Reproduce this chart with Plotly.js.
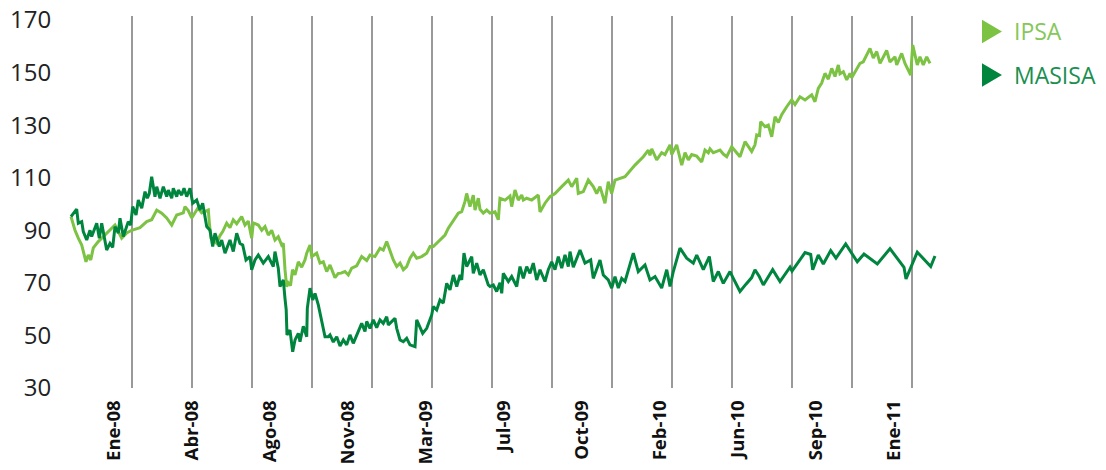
<!DOCTYPE html>
<html>
<head>
<meta charset="utf-8">
<script src="https://cdn.plot.ly/plotly-3.0.1.min.js"></script>
<style>html,body{margin:0;padding:0;background:#fff;}#chart{width:1106px;height:470px;}</style>
</head>
<body>
<div id="chart"></div>
<script>
// Period index (category position along the axis) and index values (base 100)
const ipsaX = [-0.17,0.5,1.05,1.62,2.33,2.72,3.12,3.55,4.38,5.22,
  6.05,7.17,8.28,9.12,9.95,11.33,12.45,13.28,14.12,14.95,
  15.78,16.62,17.45,18.55,18.83,19.38,19.95,20.5,21,21.62,
  22.17,22.72,22.92,23.17,23.67,24.12,24.67,25.12,25.78,26.33,
  26.88,27.45,28.28,28.83,29.38,29.95,30.22,31.05,31.62,32.17,
  32.72,33.28,33.83,34.38,34.95,35.22,35.5,35.78,36.05,36.42,
  36.75,37.17,37.72,38.28,38.83,39.12,39.67,39.95,40.78,41.33,
  41.88,42.45,43,43.83,44.38,44.83,45.5,46.05,46.62,47.45,
  48.28,49.12,49.67,50.5,51.33,51.88,52.45,53,53.55,54.12,
  54.67,55.22,55.78,56.33,56.88,57.45,58.28,59.12,59.67,60.22,
  61.05,61.62,62.17,62.72,63.28,63.83,64.38,64.95,65.5,65.78,
  66.33,66.88,67.17,67.72,68,68.55,69.12,69.67,70.5,71.05,
  71.33,72.17,73,73.28,73.83,74.38,74.95,75.22,75.78,76.62,
  77.72,78,78.83,79.67,80.5,81.62,82.45,82.72,83.28,84.12,
  84.38,85.22,86.05,86.88,87.45,88,88.83,89.38,89.95,90.5,
  92.17,93.83,95.22,96.05,96.33,96.62,97.45,98.28,98.83,99.67,
  99.95,100.78,101.62,102.17,102.72,103.28,104.12,104.95,105.5,106.05,
  106.33,106.88,107.45,108,108.55,109.12,109.95,111.33,112.17,113.28,
  113.83,114.12,114.58,114.78,115.5,116.05,116.62,117.17,117.72,118.28,
  119.12,119.95,120.5,121.33,122.17,123.28,123.83,124.38,124.95,125.5,
  126.05,126.62,127.17,127.72,128,128.55,129.12,129.67,129.95,130.5,
  131.33,131.88,132.72,133,133.55,134.12,134.67,135.78,136.33,137.17,
  137.45,138.28,138.83,139.78,140.12,140.88,141.33,141.88,142.45,143];
const ipsaY = [95.2,90,87,84.4,78,80.6,78.7,83.3,85.7,87.6,
  89.5,92,87,89,90,91,93.3,94,97.7,96.5,
  94.7,92,95.8,96.6,99,97.5,94.7,97,98.5,96.6,
  97.2,97.7,92,87,86,85,88,89.5,92.7,91,
  94,92.5,95.2,92,93.5,87,92.8,92,90,91.4,
  88.2,90,86.3,87.6,84.4,85,75,68.6,70,69,
  75,73,78,76,78.7,81.3,84.4,80,81.3,77.5,
  78,74.3,76.8,72,73.6,73.7,74.3,73,75.6,76.5,
  80,78.5,80.6,80,83.2,82.5,85.7,82.5,78.7,76.2,
  77.5,75,76.2,79.4,81.3,79.4,80,81.3,83.8,83.8,
  85.7,87,88.2,90.8,92.7,94.6,96.5,97.1,101,104,
  99,103.4,97.7,102.2,98,96.5,97.7,96.5,97,94,
  102.2,101.5,103,99,105.3,101.5,103.4,101.5,102.2,101.5,
  103.4,97,100.3,102.8,104,106.6,108.5,109.1,106.6,109.8,
  104,104.7,109.1,106.6,104,106.6,100.3,108.5,104,109.1,
  110.4,114.8,118,120.5,118.5,121,116.8,119.5,118.8,122.5,
  118.8,122.5,114.8,119.5,116.8,118.8,118.2,116,120.5,119.5,
  121,119.5,120,120.5,119,118,121.8,118,123.7,120,
  122.5,126.3,126,131.3,129.4,130,125.6,133.2,131,134,
  137,139.6,137.8,140.8,139.6,141.5,138.9,144,146,149.7,
  147.5,151.6,148.5,152.9,149.5,150.3,147.2,149.7,148,150.3,
  153.5,154.1,158,159.2,155.5,158,153.5,158.4,154,156,
  152.9,157.3,153.5,149,160.5,152.9,156,152.9,156,153.5];

const masisaX = [-0.17,0.78,1.05,1.62,1.88,2.45,3,3.28,4.12,4.55,
  4.95,5.5,5.78,6.33,6.78,7.17,7.72,8,8.55,9.38,
  9.78,10.12,10.67,11.05,11.62,12.17,12.55,12.88,13.28,13.83,
  14.12,14.67,15.22,15.78,16.05,16.62,16.88,17.45,17.72,18.28,
  18.67,19.12,19.67,20.12,20.78,21.33,21.78,22.45,23,23.45,
  23.83,24.55,24.95,25.5,26.33,26.88,27.45,28,28.45,29,
  29.67,29.95,30.5,31.05,31.88,32.72,33.55,33.83,34.38,34.67,
  35.22,35.5,35.7,35.83,36.33,36.78,37.17,37.72,38,38.55,
  39.12,39.22,39.67,40.12,40.5,41.05,41.62,42.17,42.72,43,
  43.55,44.12,44.67,45.22,45.78,46.33,46.88,47.72,48.28,48.83,
  49.12,49.67,50.22,50.78,51.33,51.88,52.45,52.72,53.83,54.12,
  54.67,55.22,55.78,56.33,57.17,57.45,58,58.45,59.12,59.95,
  60.22,60.78,61.33,61.88,62.45,63,63.55,64.12,64.67,64.95,
  65.33,65.78,66.33,66.62,66.88,67.45,68,68.55,69.38,69.67,
  70.22,70.78,71.33,71.62,71.88,72.72,73.28,74.12,74.67,75.22,
  75.78,76.33,76.88,77.45,78,78.83,79.38,79.95,80.5,81.05,
  81.62,82.17,82.72,83,83.55,84.67,85.5,86.45,86.88,88,
  88.55,89.38,89.95,90.5,91.05,91.62,92.17,92.72,93.55,94.38,
  95.5,96.33,97.17,98.28,99.12,99.67,100.22,101.33,102.45,103.55,
  104.12,105.22,106.22,106.88,107.72,108.55,109.67,110.22,111.33,112.33,
  113.28,113.83,114.55,115.22,116.78,118,119.67,120,122.17,123.12,
  123.45,124.38,125.22,126.45,127.33,128.95,130.88,132,134.22,136.33,
  138.67,139,140.88,143.12,143.83];
const masisaY = [95.2,98,92.7,93.3,89.5,86.3,90,87.6,92.7,87,
  92.7,85.7,82.5,85,83.5,91.4,88.9,94.6,87.6,93.3,
  92,99,95.8,101.5,98.4,104.7,102.2,104,110.4,102.8,
  106.6,102.2,106.6,102.8,105.3,102.2,106,102.8,105.3,103.4,
  106,102.8,106,100.3,101.5,97.7,100.3,91.4,90,83.8,
  88.9,83.8,86.3,81.3,86.3,81.9,88.9,85,84.4,78.7,
  80,75,78.7,80.6,77.5,80,76.2,81.9,75.6,68.6,
  71.1,64,59.7,50.2,52,43.8,48.3,50.8,47.6,53.5,
  49.5,60.3,68,63.5,66,61.6,55.9,49.5,49.5,50.2,
  47.5,49.5,46,48.3,46.4,50.2,47,51.5,54.6,51.5,
  55.3,52.7,55.9,53,55.9,54.6,57.1,54,56.5,52.7,
  48.3,47.6,48.9,46.4,45.7,55.9,52.7,50.8,52.7,57.8,
  61,59.7,63.5,62.3,69.8,67.3,73,68.6,73,71.1,
  81.3,76.2,78.7,80,73.6,77.5,73,75,69.2,68.6,
  69.2,66.7,70,66,73.6,70.5,72.4,68.6,76.2,71.7,
  76.2,73.6,77.5,71.1,75,70.5,75,78,75,80,
  75.6,80.6,76.2,81.9,76,82.5,77.5,78.7,71.7,78.7,
  73,71.1,68,72.4,68,71.7,70.5,75,81.3,74.3,
  76.8,71.1,72.4,68,75,68.6,74.3,83.2,79.4,77.5,
  80.6,75,80,70.5,74.3,69.8,74.3,71.7,66.7,69.5,
  72,75,72.4,69.2,75,70.5,76,74.5,81.5,80.8,
  75,80.6,77.2,82.3,79.4,84.8,78,81,77.2,83,
  75.9,71.5,81.7,76.2,80.2];

const tickIdx = [7,20,33,46,59,72,85,98,111,124,137];
const tickLabels = ["Ene-08","Abr-08","Ago-08","Nov-08","Mar-09","Jul-09","Oct-09","Feb-10","Jun-10","Sep-10","Ene-11"];
const gridIdx = [10,20,30,40,50,60,70,80,90,100,110,120,130,140];
const yTicks = [30,50,70,90,110,130,150,170];
const seriesNames = ["IPSA","MASISA"];
const seriesColors = ["#7cc243","#00853f"];
const legendTextColors = ["#86c75a","#1a8f4f"];

const traces = [
  {x: ipsaX, y: ipsaY, name: seriesNames[0], type: 'scatter', mode: 'lines',
   line: {color: seriesColors[0], width: 3}, showlegend: false, hoverinfo: 'skip'},
  {x: masisaX, y: masisaY, name: seriesNames[1], type: 'scatter', mode: 'lines',
   line: {color: seriesColors[1], width: 3}, showlegend: false, hoverinfo: 'skip'}
];

const shapes = gridIdx.map(g => ({
  type: 'line', xref: 'x', yref: 'paper', x0: g, x1: g, y0: 0, y1: 1.011,
  line: {color: '#555', width: 1.2}, layer: 'below'
}));

// Legend: triangle markers + labels placed in the right margin
const legendRows = [0.9688, 0.8505];
const triX0 = 1.0349, triX1 = 1.0574, triHalf = 0.0318;
seriesNames.forEach((n, i) => {
  const yc = legendRows[i];
  shapes.push({type: 'path', xref: 'paper', yref: 'paper',
    path: `M ${triX0} ${yc + triHalf} L ${triX0} ${yc - triHalf} L ${triX1} ${yc} Z`,
    fillcolor: seriesColors[i], line: {width: 0}});
});
const annotations = seriesNames.map((n, i) => ({
  xref: 'paper', yref: 'paper', x: 1.0687, y: legendRows[i], xanchor: 'left', yanchor: 'middle',
  text: n, showarrow: false, font: {family: 'Open Sans', size: 23, color: legendTextColors[i]}
}));

const layout = {
  width: 1106, height: 470,
  margin: {l: 63, r: 155, t: 20, b: 82},
  paper_bgcolor: '#fff', plot_bgcolor: '#fff',
  showlegend: false,
  xaxis: {range: [-1.5, 146.5], tickvals: tickIdx, ticktext: tickLabels, tickangle: -90,
    showgrid: false, zeroline: false, showline: false,
    ticks: 'outside', ticklen: 4, tickcolor: 'rgba(0,0,0,0)',
    tickfont: {family: 'Open Sans', size: 18.5, color: '#111', weight: 'bold'}},
  yaxis: {range: [30, 170], tickvals: yTicks, showgrid: false, zeroline: false, showline: false,
    ticks: 'outside', ticklen: 6, tickcolor: 'rgba(0,0,0,0)',
    tickfont: {family: 'Open Sans', size: 24, color: '#222'}},
  shapes: shapes,
  annotations: annotations
};

Plotly.newPlot('chart', traces, layout, {staticPlot: true, displayModeBar: false});
</script>
</body>
</html>
